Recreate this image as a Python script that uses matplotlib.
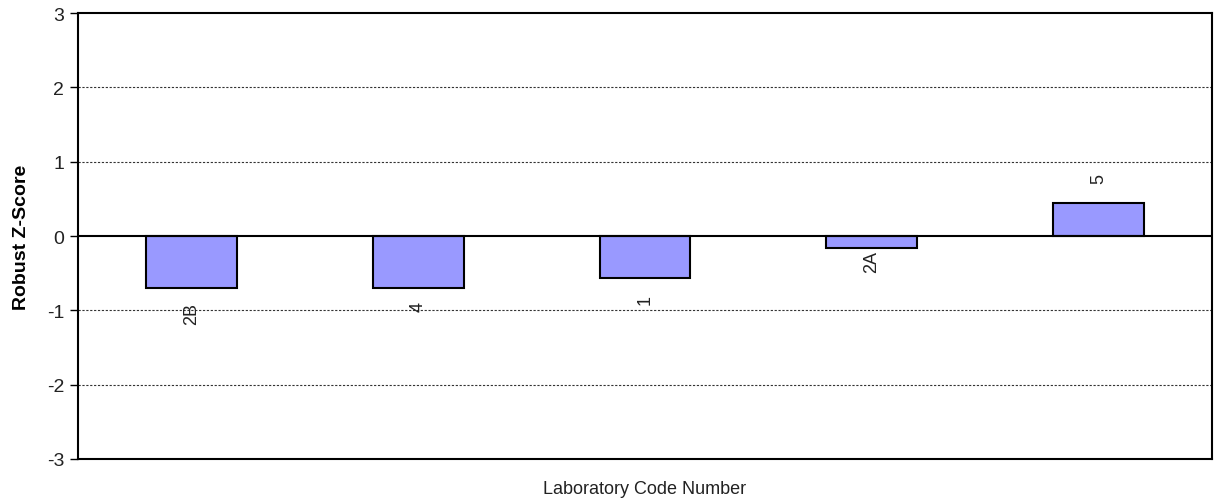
import matplotlib.pyplot as plt
import numpy as np

plt.rcParams['font.family'] = ['Liberation Sans', 'DejaVu Sans']
plt.rcParams['axes.unicode_minus'] = False

labs = ['2B', '4', '1', '2A', '5']
zscores = [-0.70, -0.70, -0.57, -0.16, 0.45]
yticks = [-3, -2, -1, 0, 1, 2, 3]

# gap (points) between bar end and its label, as placed in the original
lab_gap = [10, 9, 11, 1.5, 14]

fig = plt.figure(figsize=(12.19, 5.02), dpi=100)
ax = fig.add_axes([0.064, 0.0837, 0.9303, 0.8883])

x = np.arange(len(labs))
ax.bar(x, zscores, width=0.4, color='#9999FF', edgecolor='black', linewidth=1.5, zorder=3)

for xi, v, lab, g in zip(x, zscores, labs, lab_gap):
    if v < 0:
        ax.annotate(lab, (xi, v), xytext=(0, -g), textcoords='offset points',
                    rotation=90, ha='center', va='top', fontsize=13, color='#222222')
    else:
        ax.annotate(lab, (xi, v), xytext=(0, g), textcoords='offset points',
                    rotation=90, ha='center', va='bottom', fontsize=13, color='#222222')

ax.set_xlim(-0.5, len(labs) - 0.5)
ax.set_ylim(-3, 3)
ax.set_yticks(yticks)
ax.set_xticks([])
for t in [-2, -1, 1, 2]:
    ax.axhline(t, color='#333333', linestyle=(0, (2, 1.5)), linewidth=0.8, zorder=1)
ax.axhline(0, color='black', linewidth=1.5, zorder=4)

for s in ax.spines.values():
    s.set_linewidth(1.5)
ax.tick_params(axis='y', direction='out', length=6, width=1, labelsize=14, pad=4,
               labelcolor='#222222')

ax.set_ylabel('Robust Z-Score', fontsize=14, fontweight='bold', labelpad=12)
ax.set_xlabel('Laboratory Code Number', fontsize=13, labelpad=15, color='#222222')

fig.savefig('out.png', dpi=100)
